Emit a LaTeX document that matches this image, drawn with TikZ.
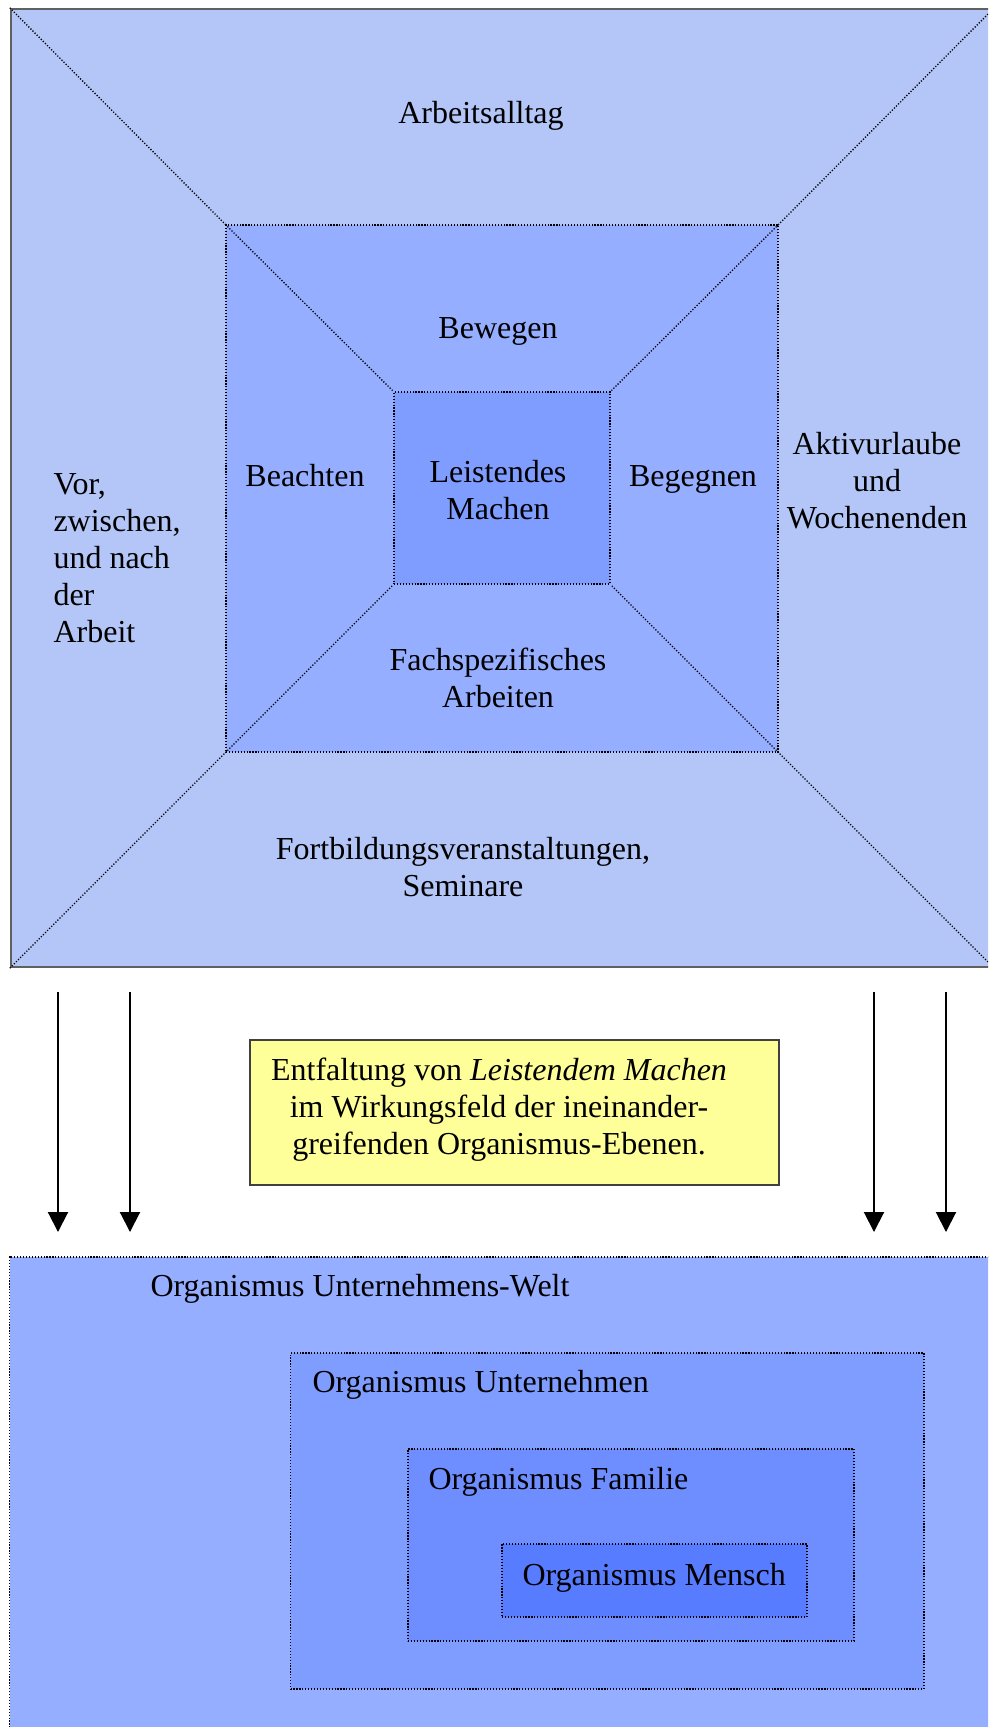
\documentclass[tikz,border=0pt]{standalone}
\usepackage{fontspec}
\setmainfont{Liberation Serif}
\usepackage{tikz}
\usetikzlibrary{arrows.meta,fit}

\definecolor{blauhell}{HTML}{B3C6F7}
\definecolor{blaumittel}{HTML}{95AEFF}
\definecolor{blaukern}{HTML}{7F9DFF}
\definecolor{blaufamilie}{HTML}{6E8EFF}
\definecolor{blaumensch}{HTML}{587CFF}
\definecolor{gelb}{HTML}{FFFF99}
\definecolor{rahmengrau}{HTML}{606060}

\begin{document}
\begin{tikzpicture}[
            x = 0.375pt, y = -0.375pt, % one unit = one pixel of the page
            > = {Triangle[length=7.5pt, width=7.5pt]}, % arrow head style
            font = \fontsize{12}{13.9}\selectfont,
            punkte/.style = {draw=black, line width=0.5pt, dash pattern=on 0.45pt off 0.65pt},
            ebene/.style = {fit={#1}, inner sep=0pt, punkte},
            wort/.style = {inner sep=0pt, align=center}
        ]
\clip (0,0) rectangle (988,1727);

% upper field
\node[ebene={(11,9) (993,967)}, fill=blauhell, draw=rahmengrau, solid, line width=0.9pt] (alltag) {};
\node[ebene={(226,225) (778,752)}, fill=blaumittel] (mitte) {};
\node[ebene={(394,392) (610,584)}, fill=blaukern] (kern) {};

\draw[punkte] (alltag.north west) -- (mitte.north west);
\draw[punkte] (alltag.north east) -- (mitte.north east);
\draw[punkte] (alltag.south west) -- (mitte.south west);
\draw[punkte] (alltag.south east) -- (mitte.south east);
\draw[punkte] (mitte.north west) -- (kern.north west);
\draw[punkte] (mitte.north east) -- (kern.north east);
\draw[punkte] (mitte.south west) -- (kern.south west);
\draw[punkte] (mitte.south east) -- (kern.south east);

\node[wort] (arbeitsalltag) at (481,116) {Arbeitsalltag};
\node[wort] (bewegen) at (498,331) {Bewegen};
\node[wort] (beachten) at (305,476) {Beachten};
\node[wort] (leistendes) at (498,490) {Leistendes\\Machen};
\node[wort] (begegnen) at (693,479) {Begegnen};
\node[wort] (urlaub) at (877,481) {Aktivurlaube\\und\\Wochenenden};
\node[wort, align=left, anchor=west] (vor) at (53,558) {Vor,\\zwischen,\\und nach\\der\\Arbeit};
\node[wort] (fach) at (498,678) {Fachspezifisches\\Arbeiten};
\node[wort] (fortbildung) at (463,867) {Fortbildungsveranstaltungen,\\Seminare};

% arrows down
\foreach \x [count=\i] in {58,130,874,946} {
  \coordinate (von\i) at (\x,992);
  \coordinate (nach\i) at (\x,1232);
  \draw[->, line width=0.75pt] (von\i) -- (nach\i);
}

\node[ebene={(250,1040) (779,1185)}, fill=gelb, draw=black!75, solid, line width=0.6pt] (entfaltung) {};
\node[wort] (entfaltungtext) at (499,1110) {Entfaltung von \textit{Leistendem Machen}\\im Wirkungsfeld der ineinander-\\greifenden Organismus-Ebenen.};

% lower field
\node[ebene={(9.5,1257) (1000,1740)}, fill=blaumittel] (welt) {};
\node[ebene={(290.5,1353) (924,1689)}, fill=blaukern] (unternehmen) {};
\node[ebene={(408,1449) (854,1641)}, fill=blaufamilie] (familie) {};
\node[ebene={(502,1544) (807,1617)}, fill=blaumensch] (mensch) {};

\node[wort, anchor=west] (weltname) at (150,1289) {Organismus Unternehmens-Welt};
\node[wort, anchor=west] (unternehmenname) at (312,1385) {Organismus Unternehmen};
\node[wort, anchor=west] (familienname) at (428,1482) {Organismus Familie};
\node[wort, anchor=west] (menschname) at (522,1578) {Organismus Mensch};
\end{tikzpicture}
\end{document}
